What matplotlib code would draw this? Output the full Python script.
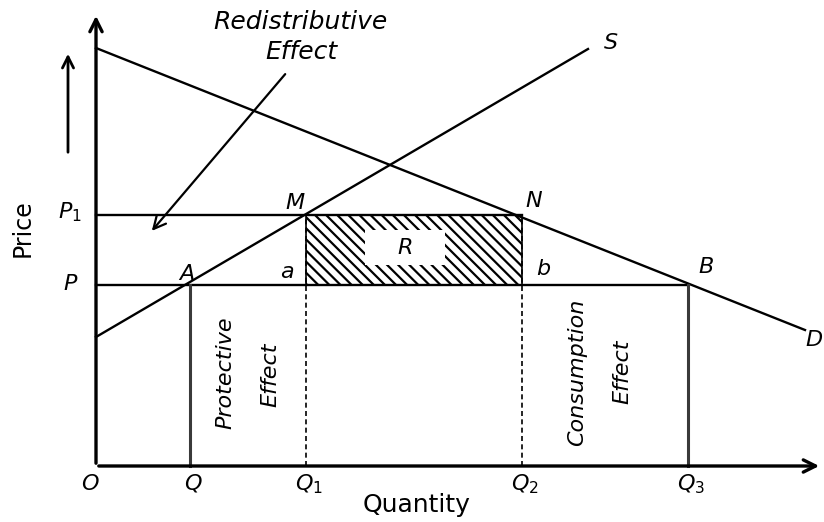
import matplotlib.pyplot as plt
from matplotlib.patches import Rectangle

# quantities and prices (arbitrary units, origin O at 0,0)
q_labels = ["Q", "Q$_1$", "Q$_2$", "Q$_3$"]
q_vals = [9.4, 21.0, 42.6, 59.2]
p_labels = ["P", "P$_1$"]
p_vals = [18.1, 25.1]

# demand and supply lines (start, end)
demand_x = [0.0, 70.9]
demand_y = [41.8, 13.6]
supply_x = [0.0, 49.2]
supply_y = [12.9, 41.7]

plt.rcParams['font.family'] = ['DejaVu Sans']
plt.rcParams['hatch.linewidth'] = 1.6

fig = plt.figure(figsize=(8.24, 5.22), dpi=100)
ax = fig.add_axes([0, 0, 1, 1])
ax.set_xlim(-9.6, 72.8)
ax.set_ylim(-5.6, 46.6)
ax.axis('off')

Q, Q1, Q2, Q3 = q_vals
P, P1 = p_vals
lw = 1.7

# axes with arrows
ax.annotate("", xy=(0, 45.3), xytext=(0, 0),
            arrowprops=dict(arrowstyle="->", lw=2.4, color="black", mutation_scale=22))
ax.annotate("", xy=(72.6, 0), xytext=(0, 0),
            arrowprops=dict(arrowstyle="->", lw=2.4, color="black", mutation_scale=22))

# demand and supply
ax.plot(demand_x, demand_y, color="black", lw=lw)
ax.plot(supply_x, supply_y, color="black", lw=lw)

# price lines
ax.plot([0, Q2], [P1, P1], color="black", lw=lw)
ax.plot([0, Q3], [P, P], color="black", lw=lw)

# verticals
ax.plot([Q, Q], [0, P], color="#3a3a3a", lw=2.2)
ax.plot([Q3, Q3], [0, P], color="#3a3a3a", lw=2.2)
ax.plot([Q1, Q1], [0, P1], color="black", lw=1.2, ls=(0, (3, 2)))
ax.plot([Q2, Q2], [0, P1], color="black", lw=1.2, ls=(0, (3, 2)))

# hatched rectangle R
ax.add_patch(Rectangle((Q1, P), Q2 - Q1, P1 - P, facecolor="white",
                       edgecolor="black", hatch="\\\\\\", lw=1.2))
ax.add_patch(Rectangle((26.9, 20.1), 8.0, 3.5, facecolor="white", edgecolor="none", zorder=3))
ax.text(30.9, 21.8, "R", fontsize=16, style="italic", ha="center", va="center", zorder=4)

# labels
lab = dict(fontsize=16, style="italic", ha="center", va="center")
ax.text(-2.6, P + 0.1, "P", **lab)
ax.text(-2.6, P1 + 0.3, "P$_1$", **lab)
ax.text(-0.6, -1.8, "O", **lab)
for qv, ql in zip(q_vals, q_labels):
    ax.text(qv + 0.3, -1.8, ql, **lab)
ax.text(Q - 0.3, P + 1.1, "A", **lab)
ax.text(Q1 - 1.9, P + 1.3, "a", **lab)
ax.text(Q2 + 2.1, P + 1.6, "b", **lab)
ax.text(Q3 + 1.8, P + 1.8, "B", **lab)
ax.text(Q1 - 1.1, P1 + 1.2, "M", **lab)
ax.text(Q2 + 1.2, P1 + 1.4, "N", **lab)
ax.text(51.5, 42.3, "S", **lab)
ax.text(71.8, 12.6, "D", **lab)

ax.text(32.1, -3.9, "Quantity", fontsize=18, ha="center", va="center")
ax.text(-7.3, 23.8, "Price", fontsize=17, ha="center", va="center", rotation=90)
ax.annotate("", xy=(-2.8, 41.5), xytext=(-2.8, 31.1),
            arrowprops=dict(arrowstyle="->", lw=2.0, color="black", mutation_scale=20))

ax.text(20.4, 44.4, "Redistributive", fontsize=18, style="italic", ha="center", va="center")
ax.text(20.5, 41.4, "Effect", fontsize=18, style="italic", ha="center", va="center")
ax.annotate("", xy=(5.4, 23.3), xytext=(19.1, 39.4),
            arrowprops=dict(arrowstyle="->", lw=1.6, color="black", mutation_scale=22))

rot = dict(fontsize=16, style="italic", ha="center", va="center", rotation=90)
ax.text(12.9, 9.3, "Protective", **rot)
ax.text(17.4, 9.1, "Effect", **rot)
ax.text(48.1, 9.4, "Consumption", **rot)
ax.text(52.6, 9.4, "Effect", **rot)

fig.savefig("out.png", dpi=100)
